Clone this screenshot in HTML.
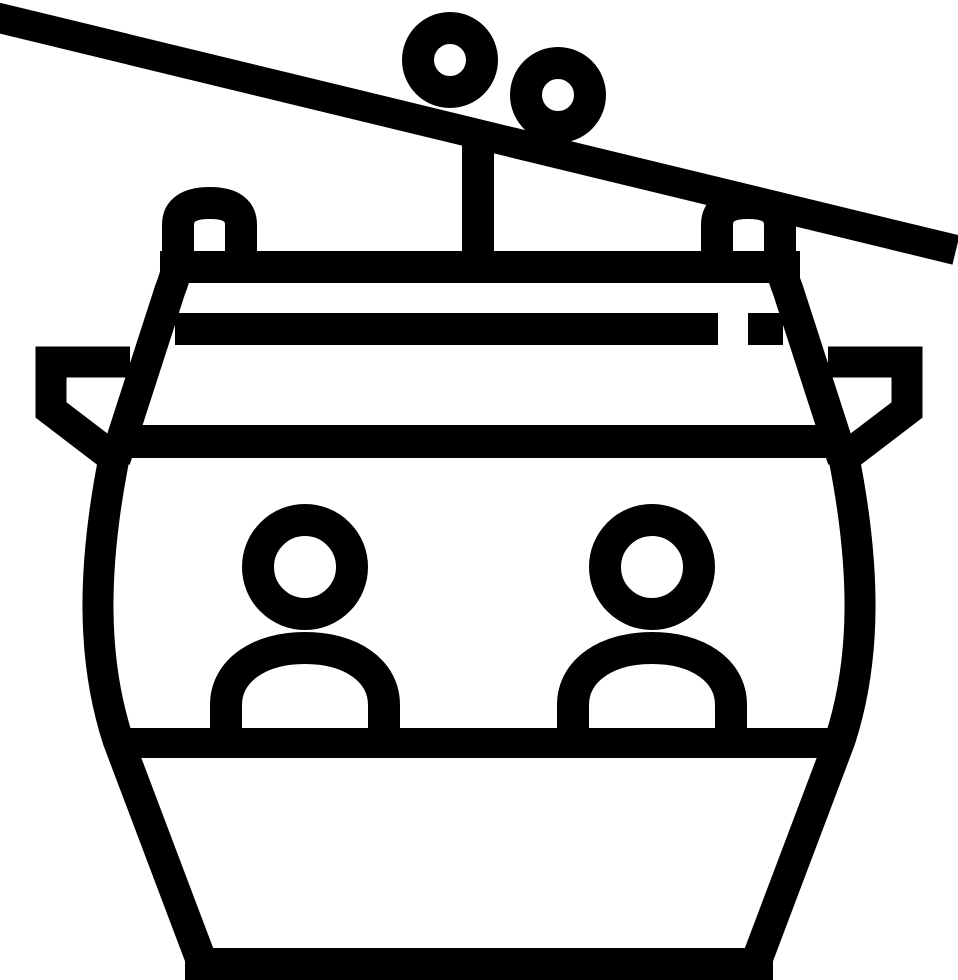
<!DOCTYPE html>
<html><head><meta charset="utf-8"><style>html,body{margin:0;padding:0;background:#fff}svg{display:block}</style></head>
<body>
<svg width="958" height="980" viewBox="0 0 958 980" xmlns="http://www.w3.org/2000/svg">
<g fill="none" stroke="#000" stroke-width="31" stroke-linejoin="miter">
  <!-- cable -->
  <line x1="-5" y1="17" x2="956" y2="250" stroke-width="30"/>
  <!-- pulleys -->
  <circle cx="450" cy="60" r="32" fill="#fff" stroke-width="32"/>
  <circle cx="558" cy="95" r="32" fill="#fff" stroke-width="32"/>
</g>
<!-- hanger -->
<rect x="462" y="138" width="32" height="120" fill="#000"/>
<!-- bars -->
<rect x="160" y="251" width="640" height="32" fill="#000"/>
<rect x="175" y="313" width="543" height="32" fill="#000"/>
<rect x="748" y="313" width="35" height="32" fill="#000"/>
<rect x="120" y="425" width="718" height="33" fill="#000"/>
<rect x="110" y="728" width="738" height="30" fill="#000"/>
<rect x="185" y="948" width="588" height="32" fill="#000"/>
<g id="half" fill="none" stroke="#000" stroke-width="31">
  <!-- hook -->
  <path d="M178,260 V225 Q178,203 210,203 Q241,203 241,225 V260" stroke-width="32"/>
  <!-- upper side -->
  <path d="M178,255 Q178,270 170,290 L115,460"/>
  <!-- side handle -->
  <path d="M130,362 H51 V410 L110,455" stroke-linejoin="miter"/>
  <!-- body side -->
  <path d="M114,458 C92,570 92,660 118,740 L203,965"/>
</g>
<use href="#half" transform="translate(958,0) scale(-1,1)"/>
<!-- people -->
<g fill="none" stroke="#000" stroke-width="32">
  <circle cx="305" cy="567" r="47"/>
  <circle cx="652" cy="567" r="47"/>
  <path d="M226,730 L226,705 C226,670 260,648 305,648 C350,648 384,670 384,705 L384,730"/>
  <path d="M573,730 L573,705 C573,670 607,648 652,648 C697,648 731,670 731,705 L731,730"/>
</g>
</svg>
</body></html>
